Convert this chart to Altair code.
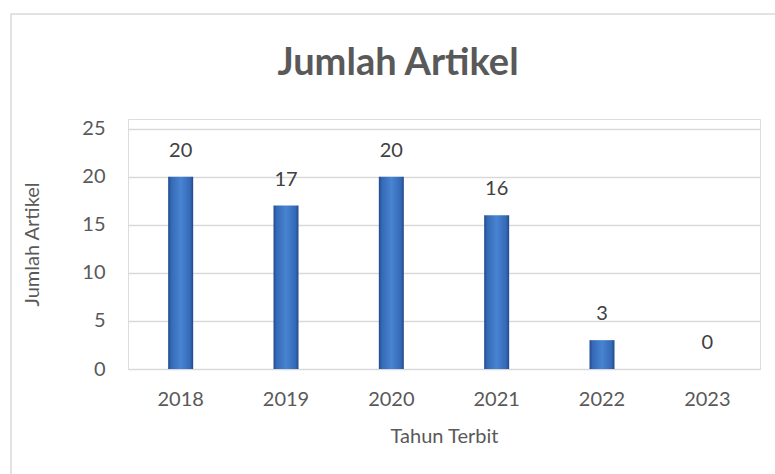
import altair as alt
import pandas as pd

years = ["2018", "2019", "2020", "2021", "2022", "2023"]
counts = [20, 17, 20, 16, 3, 0]
chart_title = "Jumlah Artikel"

df = pd.DataFrame({"Tahun": years, "Jumlah": counts})

FONT = "Lato"
GRAY = "#595959"

grad = alt.Gradient(
    gradient="linear",
    x1=0, x2=1, y1=0, y2=0,
    stops=[
        alt.GradientStop(color="#23498a", offset=0),
        alt.GradientStop(color="#3469b5", offset=0.12),
        alt.GradientStop(color="#4884d2", offset=0.5),
        alt.GradientStop(color="#3469b5", offset=0.88),
        alt.GradientStop(color="#23498a", offset=1),
    ],
)

x_enc = alt.X(
    "Tahun:N",
    sort=years,
    scale=alt.Scale(paddingInner=0, paddingOuter=0),
    axis=alt.Axis(
        title="Tahun Terbit",
        labelAngle=0,
        labelFont=FONT,
        labelFontSize=20,
        labelColor=GRAY,
        labelPadding=20,
        ticks=False,
        domain=False,
        titleFont=FONT,
        titleFontSize=20,
        titleFontWeight="normal",
        titleColor=GRAY,
        titleY=67,
        titleBaseline="middle",
    ),
)
y_enc = alt.Y(
    "Jumlah:Q",
    scale=alt.Scale(domain=[0, 25]),
    axis=alt.Axis(
        title="Jumlah Artikel",
        values=[0, 5, 10, 15, 20, 25],
        labelFont=FONT,
        labelFontSize=20,
        labelColor=GRAY,
        labelPadding=23,
        ticks=False,
        domain=False,
        gridColor="#d9d9d9",
        gridWidth=1.5,
        titleFont=FONT,
        titleFontSize=20,
        titleFontWeight="normal",
        titleColor=GRAY,
        titleX=-96,
        titleY=125,
        titleAngle=-90,
        titleAlign="center",
        titleBaseline="middle",
    ),
)

bars = alt.Chart(df).mark_bar(size=25, color=grad).encode(x=x_enc, y=y_enc)

labels = alt.Chart(df).mark_text(
    font=FONT, fontSize=20, color="#404040", dy=-26, baseline="middle"
).encode(
    x=alt.X("Tahun:N", sort=years),
    y=alt.Y("Jumlah:Q"),
    text=alt.Text("Jumlah:Q"),
)

deco = alt.Data(values=[{"t": chart_title}])

border = alt.Chart(deco).mark_rect(
    fill="white", fillOpacity=0, stroke="#d9d9d9", strokeWidth=1.5
).encode(
    x=alt.value(-117),
    x2=alt.value(700),
    y=alt.value(-105),
    y2=alt.value(420),
)

title_mark = alt.Chart(deco).mark_text(
    font=FONT, fontSize=38, fontWeight="bold", color=GRAY,
    align="center", baseline="alphabetic",
).encode(
    x=alt.value(270),
    y=alt.value(-44),
    text="t:N",
)

chart = alt.layer(border, bars, labels, title_mark).properties(
    width=632,
    height=250,
    autosize=alt.AutoSizeParams(type="none"),
    padding={"left": 128, "top": 119, "right": 15, "bottom": 105},
).configure_view(stroke=None).configure(background="white")

chart.save("out.html", embed_options={"renderer": "svg", "actions": False})
